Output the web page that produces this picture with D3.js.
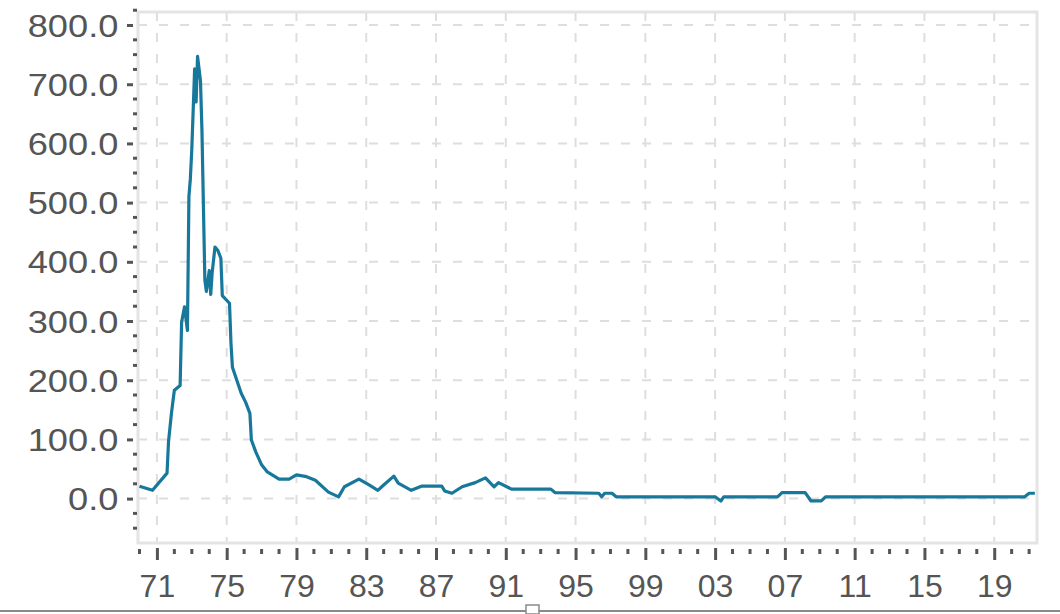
<!DOCTYPE html>
<html>
<head>
<meta charset="utf-8">
<script src="https://cdn.jsdelivr.net/npm/d3@7"></script>
<style>
  body { margin: 0; background: #fff; }
  svg { display: block; }
  .tick text { font-family: "Liberation Sans", Arial, sans-serif; fill: #555; }
</style>
</head>
<body>
<div id="chart"></div>
<script>
// monthly readings, values in %
var months = [
  '1970-01', '1970-10', '1971-08', '1971-09', '1971-11', '1972-01', '1972-05', '1972-06',
  '1972-08', '1972-10', '1972-11', '1972-12', '1973-01', '1973-03', '1973-04', '1973-05',
  '1973-07', '1973-08', '1973-10', '1973-11', '1974-01', '1974-02', '1974-03', '1974-05',
  '1974-07', '1974-09', '1974-10', '1975-03', '1975-04', '1975-05', '1975-08', '1975-11',
  '1976-02', '1976-05', '1976-06', '1976-09', '1977-01', '1977-05', '1978-01', '1978-08',
  '1979-01', '1979-08', '1980-02', '1980-11', '1981-06', '1981-10', '1982-08', '1983-03',
  '1983-09', '1984-01', '1984-08', '1984-11', '1985-08', '1986-03', '1987-05', '1987-07',
  '1987-12', '1988-07', '1989-04', '1989-11', '1990-05', '1990-08', '1991-05', '1993-08',
  '1993-11', '1996-05', '1996-07', '1996-09', '1997-02', '1997-05', '2003-01', '2003-05',
  '2003-07', '2006-08', '2006-11', '2008-03', '2008-07', '2009-02', '2009-05', '2020-10',
  '2021-01', '2021-05'
];
var values = [
  21, 14, 43, 96, 144, 183, 191, 298,
  324, 284, 510, 540, 591, 726, 670, 747,
  706, 622, 369, 350, 385, 345, 380, 425,
  419, 406, 343, 330, 262, 222, 200, 178,
  163, 144, 99, 79, 57, 45, 33, 33,
  40, 37, 31, 11, 3, 20, 33, 23,
  14, 23, 38, 26, 14, 21, 21, 13,
  9, 20, 27, 35, 20, 27, 16, 16,
  10, 9, 3, 9, 9, 3, 3, -4,
  3, 3, 10, 10, -4, -4, 3, 3,
  9, 9
];
var yTicks = [0, 100, 200, 300, 400, 500, 600, 700, 800];
var xTickYears = [1971, 1975, 1979, 1983, 1987, 1991, 1995, 1999, 2003, 2007, 2011, 2015, 2019];

(function() {
    var width = 1060;
    var height = 614;
    var pLeft = 138, pRight = 1037, pTop = 12, pBottom = 543;

    var parse = d3.timeParse('%Y-%m');
    var data = months.map(function(m, i) {
        return { date: parse(m), value: values[i] };
    });

    var x = d3.scaleTime()
        .domain([new Date(1969, 11, 1), new Date(2021, 5, 15)])
        .range([pLeft, pRight]);
    var y = d3.scaleLinear()
        .domain([-75, 822])
        .range([pBottom, pTop]);

    var svg = d3.select('#chart')
        .append('svg')
        .attr('width', width)
        .attr('height', height);

    // grid
    var xTicks = xTickYears.map(function(yr) { return new Date(yr, 0, 1); });
    svg.append('g')
        .selectAll('line')
        .data(xTicks)
        .enter().append('line')
        .attr('x1', function(d) { return x(d); })
        .attr('x2', function(d) { return x(d); })
        .attr('y1', pTop)
        .attr('y2', pBottom)
        .attr('stroke', '#dedede')
        .attr('stroke-width', 2)
        .attr('stroke-dasharray', '9,12');

    svg.append('g')
        .selectAll('line')
        .data(yTicks)
        .enter().append('line')
        .attr('x1', pLeft)
        .attr('x2', pRight)
        .attr('y1', function(d) { return y(d); })
        .attr('y2', function(d) { return y(d); })
        .attr('stroke', '#dedede')
        .attr('stroke-width', 2)
        .attr('stroke-dasharray', '9,12');

    // frame
    svg.append('rect')
        .attr('x', pLeft)
        .attr('y', pTop)
        .attr('width', pRight - pLeft)
        .attr('height', pBottom - pTop)
        .attr('fill', 'none')
        .attr('stroke', '#e4e4e4')
        .attr('stroke-width', 3);

    // y axis, minor ticks every 25
    var yMinor = d3.range(-50, 826, 25).filter(function(v) { return v % 100 !== 0; });
    svg.append('g')
        .selectAll('line')
        .data(yMinor)
        .enter().append('line')
        .attr('x1', 133)
        .attr('x2', 137)
        .attr('y1', function(d) { return y(d); })
        .attr('y2', function(d) { return y(d); })
        .attr('stroke', '#555')
        .attr('stroke-width', 3);

    var yAxis = svg.append('g')
        .attr('transform', 'translate(133,0)')
        .call(d3.axisLeft(y).tickValues(yTicks).tickSize(6).tickPadding(8)
            .tickFormat(d3.format('.1f')));
    yAxis.select('.domain').remove();
    yAxis.selectAll('.tick line').attr('stroke', '#555').attr('stroke-width', 3);
    // glyphs in the source are drawn a bit wide
    yAxis.selectAll('.tick text')
        .attr('font-size', 31)
        .attr('x', -12.5)
        .attr('transform', 'scale(1.17,1)')
        .attr('dy', '0.36em');

    // x axis, minor ticks every year
    var xMinor = d3.range(1970, 2022).filter(function(yr) { return (yr - 1971) % 4 !== 0; })
        .map(function(yr) { return new Date(yr, 0, 1); });
    svg.append('g')
        .selectAll('line')
        .data(xMinor)
        .enter().append('line')
        .attr('x1', function(d) { return x(d); })
        .attr('x2', function(d) { return x(d); })
        .attr('y1', 549)
        .attr('y2', 554)
        .attr('stroke', '#555')
        .attr('stroke-width', 3);

    var xAxis = svg.append('g')
        .attr('transform', 'translate(0,548)')
        .call(d3.axisBottom(x).tickValues(xTicks).tickSize(12).tickPadding(14)
            .tickFormat(d3.timeFormat('%y')));
    xAxis.select('.domain').remove();
    xAxis.selectAll('.tick line').attr('stroke', '#555').attr('stroke-width', 3);
    xAxis.selectAll('.tick text').attr('font-size', 32);

    // series
    var line = d3.line()
        .x(function(d) { return x(d.date); })
        .y(function(d) { return y(d.value); });

    svg.append('path')
        .datum(data)
        .attr('d', line)
        .attr('fill', 'none')
        .attr('stroke', '#17789b')
        .attr('stroke-width', 3.2)
        .attr('stroke-linejoin', 'round');

    // selection frame left from the screenshot
    svg.append('line')
        .attr('x1', 0).attr('x2', width)
        .attr('y1', 611).attr('y2', 611)
        .attr('stroke', '#8a8a8a')
        .attr('stroke-width', 2);
    svg.append('rect')
        .attr('x', 526).attr('y', 605)
        .attr('width', 13).attr('height', 9)
        .attr('fill', '#fff')
        .attr('stroke', '#8a8a8a')
        .attr('stroke-width', 1.5);
})();
</script>
</body>
</html>
